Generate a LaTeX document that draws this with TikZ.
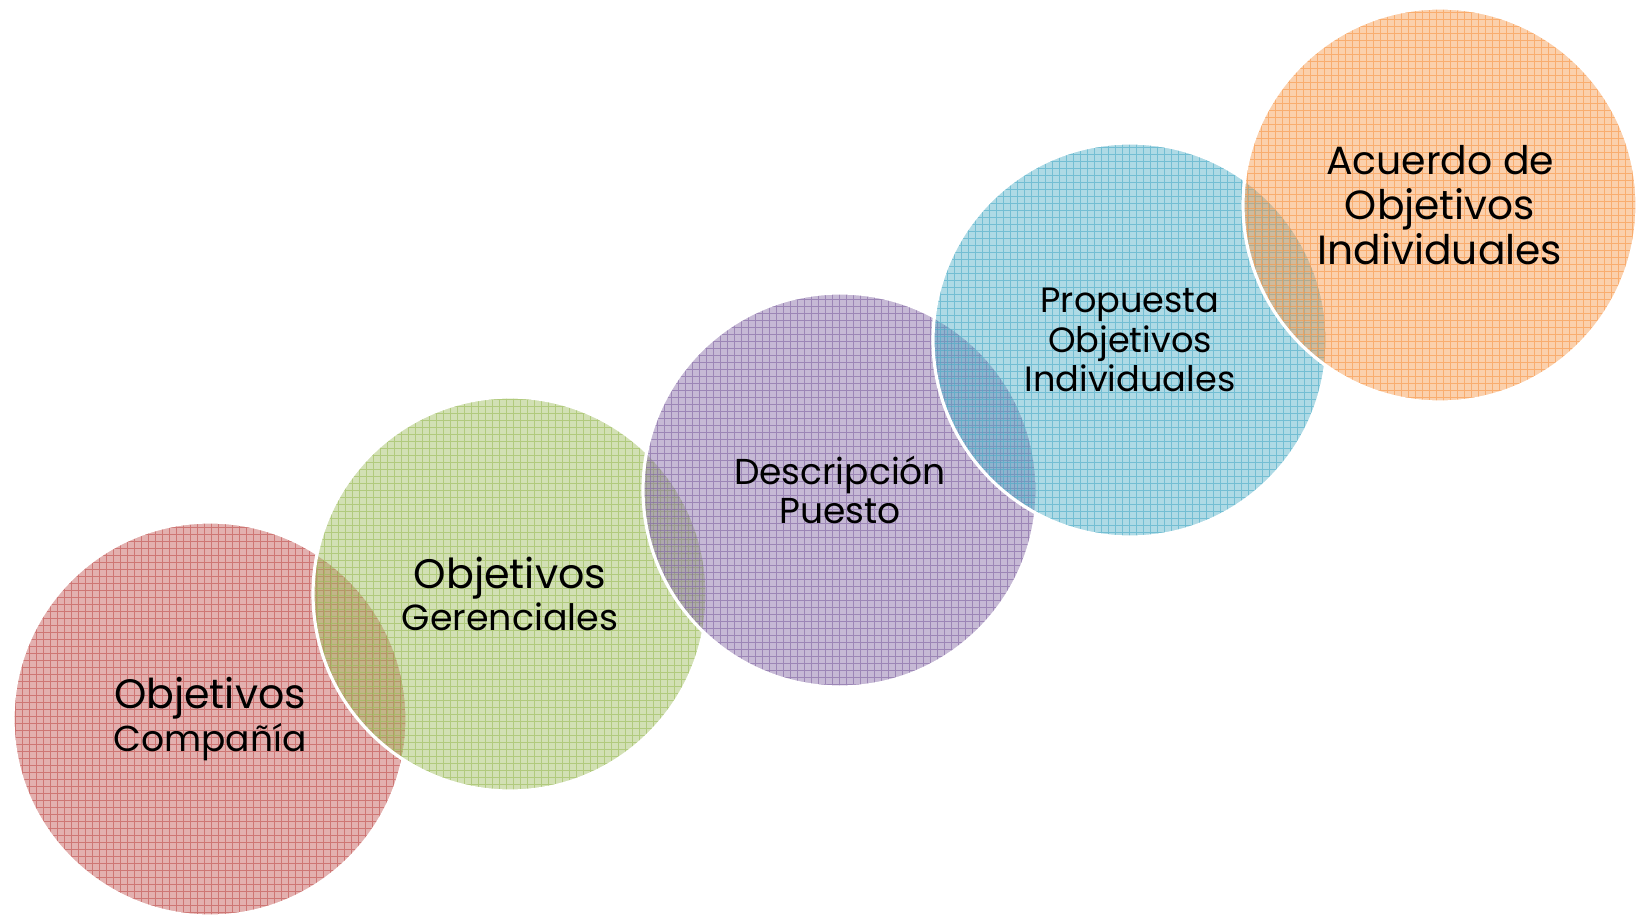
\documentclass[tikz,border=0pt]{standalone}
\usepackage{fontspec}
\setmainfont{Poppins}
\definecolor{ofRed}{HTML}{C0504D}
\definecolor{ofGreen}{HTML}{9BBB59}
\definecolor{ofPurple}{HTML}{8064A2}
\definecolor{ofAqua}{HTML}{4BACC6}
\definecolor{ofOrange}{HTML}{F79646}
\newcommand{\bigline}[2]{{\fontsize{#1}{#1}\selectfont #2}}
\begin{document}
\begin{tikzpicture}[
		bubble/.style={circle, minimum size=7.88cm, inner sep=0pt, draw=white, line width=1.8pt,
			fill=#1, fill opacity=0.45, text opacity=1, align=center, text=black,
			path picture={\draw[#1, draw opacity=0.6, line width=0.5pt, step=0.14]
				(path picture bounding box.south west) grid (path picture bounding box.north east);}},
		lines/.style={font=\fontsize{20}{#1}\selectfont}
	]
	\useasboundingbox (0,0) rectangle (32.74,18.32);

	\node[bubble=ofRed, lines=24pt](compBubble) at (4.20,3.94){\bigline{23.4}{Objetivos}\\\bigline{20.5}{Compañía}};
	\node[bubble=ofGreen, lines=24pt](gerBubble) at (10.20,6.44){\bigline{23.5}{Objetivos}\\\bigline{20.7}{Gerenciales}};
	\node[bubble=ofPurple, lines=22.2pt](descBubble) at (16.80,8.52){\bigline{20.5}{Descripción}\\\bigline{20.5}{Puesto}};
	\node[bubble=ofAqua, lines=22.7pt](propBubble) at (22.60,11.52){\bigline{20}{Propuesta}\\\bigline{20}{Objetivos}\\\bigline{20}{Individuales}};
	\node[bubble=ofOrange, lines=25.6pt](acuBubble) at (28.80,14.22){\bigline{22.4}{Acuerdo de}\\\bigline{23.2}{Objetivos}\\\bigline{23.2}{Individuales}};
\end{tikzpicture}
\end{document}
